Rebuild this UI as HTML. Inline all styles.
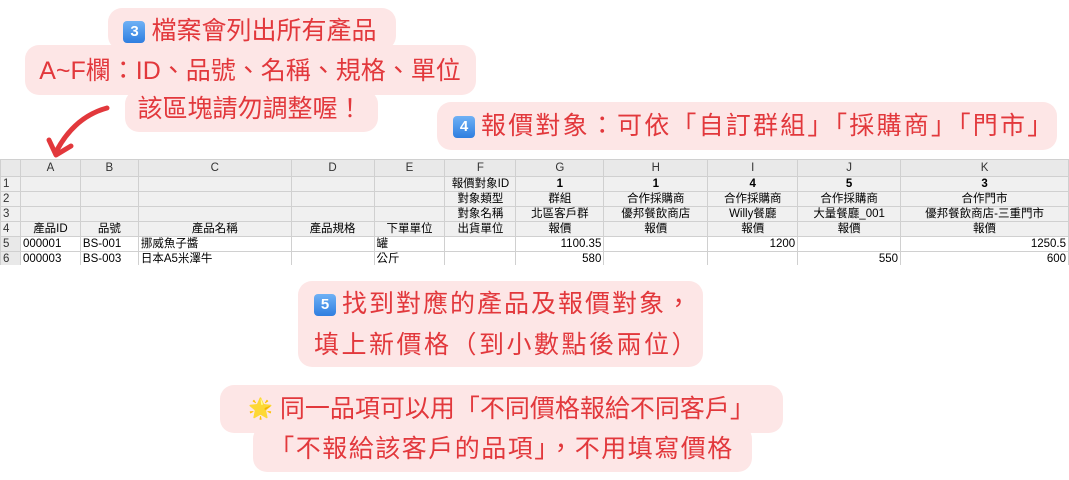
<!DOCTYPE html>
<html><head><meta charset="utf-8"><style>
body{margin:0;width:1069px;height:480px;background:#fff;position:relative;overflow:hidden;font-family:"Liberation Sans","Noto Sans CJK TC",sans-serif}
.b{position:absolute;background:#fde6e6;border-radius:14px}
.t{position:absolute;color:#e2383c;font-size:25px;line-height:42px;white-space:nowrap;font-family:"Liberation Sans","Noto Sans CJK TC",sans-serif}
.k{display:inline-block;width:22px;height:22px;border-radius:4px;background:linear-gradient(#6fb1f5,#2f7ee0);color:#fff;font-size:15px;line-height:22px;text-align:center;font-weight:bold;vertical-align:3px;margin-right:6px;letter-spacing:0}
table{position:absolute;left:0;top:159px;border-collapse:collapse;table-layout:fixed;font-size:11.5px;font-family:"Liberation Sans","Noto Sans CJK TC",sans-serif;color:#000}
td{border:1px solid #d0d0d0;height:14px;padding:0 2px;overflow:hidden;white-space:nowrap;text-align:center;line-height:13px}
tr.h td{background:#e9e9e9;height:16px;color:#333}
tr.g td{background:#f0f0f0}
td.n{background:#e9e9e9;text-align:left;color:#333}
tr.d td{background:#fff}
tr.d td.n{background:#e9e9e9}
.r{text-align:right}.l{text-align:left}
b{font-weight:bold}
</style></head><body>
<div class="b" style="left:108px;top:8px;width:288px;height:42px"></div>
<div class="b" style="left:25px;top:45px;width:451px;height:50px"></div>
<div class="b" style="left:125px;top:90px;width:253px;height:42px"></div>
<div class="t" style="left:0;width:500px;text-align:center;top:10px"><span class="k">3</span>檔案會列出所有產品</div>
<div class="t" style="left:0;width:500px;text-align:center;top:50px">A~F欄：ID、品號、名稱、規格、單位</div>
<div class="t" style="left:0;width:500px;text-align:center;top:88px">該區塊請勿調整喔！</div>
<svg style="position:absolute;left:45px;top:100px" width="70" height="60"><path d="M62 8 C40 14,24 28,12 50" stroke="#e2383c" stroke-width="5" fill="none" stroke-linecap="round"/><path d="M4 40 L11 55 L26 46" stroke="#e2383c" stroke-width="5" fill="none" stroke-linecap="round" stroke-linejoin="round"/></svg>
<div class="b" style="left:437px;top:102px;width:620px;height:48px"></div>
<div class="t" style="left:453px;top:105px;letter-spacing:2.2px"><span class="k">4</span>報價對象：可依「自訂群組」「採購商」「門市」</div>
<table>
<colgroup><col style="width:20px"><col style="width:60px"><col style="width:58px"><col style="width:153px"><col style="width:83px"><col style="width:71px"><col style="width:71px"><col style="width:88px"><col style="width:104px"><col style="width:90px"><col style="width:103px"><col style="width:168px"></colgroup>
<tr class="h"><td class="n"></td><td>A</td><td>B</td><td>C</td><td>D</td><td>E</td><td>F</td><td>G</td><td>H</td><td>I</td><td>J</td><td>K</td></tr>
<tr class="g"><td class="n">1</td><td></td><td></td><td></td><td></td><td></td><td>報價對象ID</td><td><b>1</b></td><td><b>1</b></td><td><b>4</b></td><td><b>5</b></td><td><b>3</b></td></tr>
<tr class="g"><td class="n">2</td><td></td><td></td><td></td><td></td><td></td><td>對象類型</td><td>群組</td><td>合作採購商</td><td>合作採購商</td><td>合作採購商</td><td>合作門市</td></tr>
<tr class="g"><td class="n">3</td><td></td><td></td><td></td><td></td><td></td><td>對象名稱</td><td>北區客戶群</td><td>優邦餐飲商店</td><td>Willy餐廳</td><td>大量餐廳_001</td><td>優邦餐飲商店-三重門市</td></tr>
<tr class="g"><td class="n">4</td><td>產品ID</td><td>品號</td><td>產品名稱</td><td>產品規格</td><td>下單單位</td><td>出貨單位</td><td>報價</td><td>報價</td><td>報價</td><td>報價</td><td>報價</td></tr>
<tr class="d"><td class="n">5</td><td class="l">000001</td><td class="l">BS-001</td><td class="l">挪威魚子醬</td><td></td><td class="l">罐</td><td></td><td class="r">1100.35</td><td></td><td class="r">1200</td><td></td><td class="r">1250.5</td></tr>
<tr class="d"><td class="n">6</td><td class="l">000003</td><td class="l">BS-003</td><td class="l">日本A5米澤牛</td><td></td><td class="l">公斤</td><td></td><td class="r">580</td><td></td><td></td><td class="r">550</td><td class="r">600</td></tr>
</table>
<div style="position:absolute;left:0;top:265px;width:1069px;height:3px;background:#fff"></div>
<div class="b" style="left:298px;top:281px;width:405px;height:86px"></div>
<div class="t" style="left:314px;top:283px;letter-spacing:2px"><span class="k">5</span>找到對應的產品及報價對象，</div>
<div class="t" style="left:314px;top:324px;letter-spacing:2.5px">填上新價格（到小數點後兩位）</div>
<div class="b" style="left:220px;top:385px;width:563px;height:48px"></div>
<div class="b" style="left:253px;top:425px;width:499px;height:47px"></div>
<div class="t" style="left:0;width:1003px;text-align:center;top:388px"><span style="font-size:20px;vertical-align:2px">🌟</span> 同一品項可以用「不同價格報給不同客戶」</div>
<div class="t" style="left:0;width:1003px;text-align:center;top:428px;letter-spacing:1.5px">「不報給該客戶的品項」，不用填寫價格</div>
</body></html>
